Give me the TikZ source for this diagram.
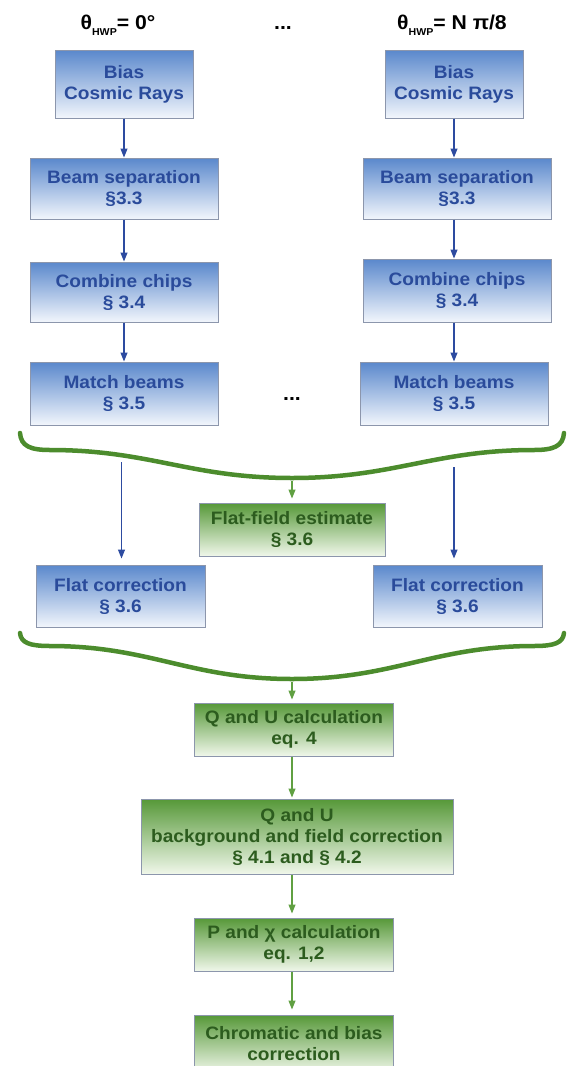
\documentclass[tikz,border=0pt]{standalone}
\usepackage{fontspec}
\setmainfont{Liberation Sans}[FakeStretch=1.06]
\usetikzlibrary{arrows.meta}
\definecolor{bluetop}{RGB}{90,136,204}
\definecolor{bluebot}{RGB}{242,246,252}
\definecolor{greentop}{RGB}{86,152,56}
\definecolor{greenbot}{RGB}{240,247,234}
\definecolor{bluetext}{RGB}{42,75,155}
\definecolor{greentext}{RGB}{44,92,30}
\definecolor{bordercol}{RGB}{140,150,172}
\definecolor{arrowblue}{RGB}{45,75,160}
\definecolor{arrowgreen}{RGB}{96,160,66}
\definecolor{bracegreen}{RGB}{76,140,45}
\begin{document}
\begin{tikzpicture}[x=1pt,y=-1pt,
  box/.style={draw=bordercol, line width=1pt, align=center, inner sep=0pt,
    font=\fontsize{18}{21}\selectfont\bfseries},
  bluebox/.style={box, top color=bluetop, bottom color=bluebot, text=bluetext},
  greenbox/.style={box, top color=greentop, bottom color=greenbot, text=greentext},
  bluearrow/.style={draw=arrowblue, line width=1.1pt, -{Triangle[length=9pt,width=7pt]}},
  greenarrow/.style={draw=arrowgreen, line width=1.1pt, -{Triangle[length=9pt,width=7pt]}},
  bracestyle/.style={draw=bracegreen, line width=4.5pt, line cap=round},
  titletext/.style={font=\fontsize{20}{24}\selectfont\bfseries, text=black, inner sep=0pt},
  dotstext/.style={font=\fontsize{20}{24}\selectfont\bfseries, text=black, inner sep=0pt}
]
\useasboundingbox[fill=white] (0,0) rectangle (572,1066);

% titles
\node[titletext, anchor=base] (tL) at (118,29) {θ\raisebox{-6pt}{\fontsize{10}{10}\selectfont HWP}= 0°};
\node[titletext, anchor=base] (tR) at (452,29) {θ\raisebox{-6pt}{\fontsize{10}{10}\selectfont HWP}= N π/8};
\node[dotstext] (dT) at (283,28) {...};

% left column
\node[bluebox, minimum width=138pt, minimum height=68pt] (b1L) at (124,84) {Bias\\Cosmic Rays};
\node[bluebox, minimum width=188pt, minimum height=61pt] (b2L) at (124,188.5) {Beam separation\\§3.3};
\node[bluebox, minimum width=188pt, minimum height=60pt] (b3L) at (124,292) {Combine chips\\§ 3.4};
\node[bluebox, minimum width=188pt, minimum height=63pt] (b4L) at (124,393.5) {Match beams\\§ 3.5};

% right column
\node[bluebox, minimum width=138pt, minimum height=68pt] (b1R) at (454,84) {Bias\\Cosmic Rays};
\node[bluebox, minimum width=188pt, minimum height=61pt] (b2R) at (457,188.5) {Beam separation\\§3.3};
\node[bluebox, minimum width=188pt, minimum height=63pt] (b3R) at (457,290.5) {Combine chips\\§ 3.4};
\node[bluebox, minimum width=188pt, minimum height=63pt] (b4R) at (454,393.5) {Match beams\\§ 3.5};

\node[dotstext] (dM) at (292,399) {...};

% column arrows
\draw[bluearrow] (b1L.south) -- (b1L.south |- b2L.north);
\draw[bluearrow] (b2L.south) -- (b2L.south |- b3L.north);
\draw[bluearrow] (b3L.south) -- (b3L.south |- b4L.north);
\draw[bluearrow] (b1R.south) -- (b1R.south |- b2R.north);
\draw[bluearrow] ([xshift=-3pt]b2R.south) -- ([xshift=-3pt]b2R.south |- b3R.north);
\draw[bluearrow] (b3R.south -| b4R) -- (b4R.north);

% first brace
\draw[bracestyle] (20,433) .. controls (21,446) and (30,450) .. (50,450)
  .. controls (150,450) and (190,478) .. (292,478)
  .. controls (394,478) and (434,450) .. (534,450)
  .. controls (554,450) and (563,446) .. (564,433);
\coordinate (br1) at (292,481);

% flat-field
\node[greenbox, minimum width=186pt, minimum height=53pt] (ff) at (292,529.5) {Flat-field estimate\\§ 3.6};
\node[bluebox, minimum width=169pt, minimum height=62pt] (fcL) at (120.5,596) {Flat correction\\§ 3.6};
\node[bluebox, minimum width=169pt, minimum height=62pt] (fcR) at (457.5,596) {Flat correction\\§ 3.6};

\draw[greenarrow, shorten >=4pt] (br1) -- (ff.north);
\coordinate (lL) at (121.5,462);
\coordinate (lR) at (454,467);
\draw[bluearrow, shorten >=6pt] (lL) -- (lL |- fcL.north);
\draw[bluearrow, shorten >=6pt] (lR) -- (lR |- fcR.north);

% second brace
\draw[bracestyle] (20,633) .. controls (21,643) and (30,646) .. (50,646)
  .. controls (150,646) and (190,679) .. (292,679)
  .. controls (394,679) and (434,646) .. (534,646)
  .. controls (554,646) and (563,643) .. (564,633);
\coordinate (br2) at (292,682);

% bottom chain
\node[greenbox, minimum width=199pt, minimum height=53pt] (qu) at (294,729.5) {Q and U calculation\\eq. 4};
\node[greenbox, minimum width=312pt, minimum height=75pt] (qub) at (297,836.5) {Q and U\\background and field correction\\§ 4.1 and § 4.2};
\node[greenbox, minimum width=199pt, minimum height=53pt] (pc) at (294,944.5) {P and χ calculation\\eq. 1,2};
\node[greenbox, minimum width=199pt, minimum height=58pt] (chr) at (294,1044) {Chromatic and bias\\correction};

\draw[greenarrow, shorten >=3pt] (br2) -- (br2 |- qu.north);
\draw[greenarrow, shorten >=1pt] (qu.south -| 292,0) -- (qub.north -| 292,0);
\draw[greenarrow, shorten >=4pt] (qub.south -| 292,0) -- (pc.north -| 292,0);
\draw[greenarrow, shorten >=5pt] (pc.south -| 292,0) -- (chr.north -| 292,0);
\end{tikzpicture}
\end{document}
